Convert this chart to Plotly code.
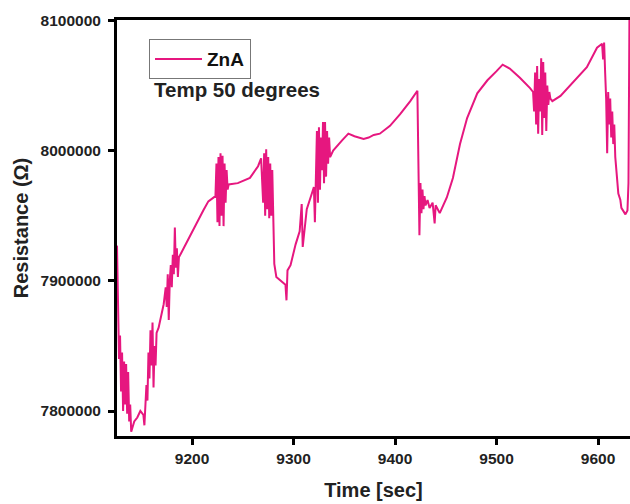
import plotly.graph_objects as go

time_sec = [
    9126, 9127, 9128, 9129, 9130, 9131, 9132, 9133, 9134, 9135, 9136, 9137, 9138, 9139, 9140,
    9143, 9146, 9149, 9152, 9153, 9154, 9155, 9156, 9157, 9158, 9159, 9160, 9161, 9162, 9163,
    9164, 9165, 9167, 9170, 9172, 9174, 9175, 9176, 9177, 9178, 9179, 9180, 9181, 9182, 9183,
    9184, 9185, 9186, 9187, 9189, 9198, 9211, 9216, 9222, 9223, 9224, 9225, 9226, 9227, 9228,
    9229, 9230, 9231, 9232, 9233, 9234, 9235, 9236, 9245, 9257, 9265, 9268, 9270, 9271, 9272,
    9273, 9274, 9275, 9276, 9277, 9278, 9279, 9280, 9281, 9283, 9289, 9292, 9293, 9294, 9297,
    9302, 9306, 9308, 9309, 9313, 9318, 9320, 9321, 9322, 9323, 9324, 9325, 9326, 9327, 9328,
    9329, 9330, 9331, 9332, 9333, 9334, 9335, 9336, 9339, 9348, 9354, 9360, 9364, 9369, 9374,
    9379, 9385, 9395, 9405, 9415, 9422, 9423, 9424, 9425, 9426, 9427, 9428, 9429, 9430, 9432,
    9434, 9437, 9439, 9440, 9444, 9451, 9457, 9464, 9471, 9481, 9491, 9500, 9506, 9513, 9523,
    9533, 9536, 9537, 9538, 9539, 9540, 9541, 9542, 9543, 9544, 9545, 9546, 9547, 9548, 9549,
    9550, 9551, 9552, 9553, 9555, 9563, 9575, 9589, 9599, 9604, 9605, 9606, 9607, 9608, 9609,
    9610, 9611, 9612, 9613, 9614, 9615, 9616, 9617, 9618, 9620, 9622, 9623, 9627, 9629, 9630,
    9631,
]

resistance_zna = [
    7927000, 7870000, 7840000, 7858000, 7815000, 7845000, 7800000, 7838000, 7805000, 7836000,
    7798000, 7830000, 7792000, 7805000, 7784000,
    7792000, 7795000, 7800000, 7797000, 7789000, 7812000, 7820000, 7808000, 7845000, 7825000,
    7862000, 7835000, 7868000, 7818000, 7850000,
    7835000, 7860000, 7864000, 7874000, 7882000, 7895000, 7880000, 7905000, 7870000, 7900000,
    7912000, 7895000, 7920000, 7905000, 7941000,
    7910000, 7925000, 7903000, 7918000, 7921000, 7935000, 7954000, 7961000, 7964000, 7965000,
    7990000, 7945000, 7995000, 7942000, 7998000,
    7950000, 7996000, 7942000, 7990000, 7960000, 7985000, 7970000, 7974000, 7975000, 7979000,
    7988000, 7994000, 7960000, 7998000, 7950000,
    8001000, 7955000, 7995000, 7948000, 7990000, 7950000, 7985000, 7955000, 7913000, 7903000,
    7899000, 7897000, 7885000, 7908000, 7912000,
    7928000, 7938000, 7959000, 7926000, 7955000, 7967000, 7972000, 7945000, 7975000, 8015000,
    7960000, 8018000, 7970000, 8010000, 7985000,
    8022000, 7975000, 8022000, 7980000, 8015000, 7990000, 8010000, 7995000, 8000000, 8008000,
    8013000, 8011000, 8010000, 8009000, 8010000,
    8012000, 8013000, 8019000, 8028000, 8038000, 8046000, 7990000, 7935000, 7975000, 7952000,
    7970000, 7955000, 7965000, 7958000, 7962000,
    7956000, 7960000, 7944000, 7958000, 7952000, 7964000, 7979000, 8005000, 8025000, 8044000,
    8054000, 8061000, 8066000, 8063000, 8056000,
    8048000, 8045000, 8030000, 8060000, 8020000, 8065000, 8013000, 8055000, 8030000, 8071000,
    8012000, 8068000, 8025000, 8060000, 8015000,
    8050000, 8035000, 8045000, 8040000, 8038000, 8042000, 8052000, 8064000, 8079000, 8082000,
    8070000, 8083000, 8060000, 8040000, 7998000,
    8045000, 8020000, 8040000, 8010000, 8030000, 8005000, 8020000, 7995000, 7985000, 7967000,
    7962000, 7956000, 7951000, 7954000, 7975000,
    8110000,
]

x_ticks = [9200, 9300, 9400, 9500, 9600]
y_ticks = [7800000, 7900000, 8000000, 8100000]

FONT = "Liberation Sans"
LINE_COLOR = "#E6177F"

fig = go.Figure()
fig.add_trace(go.Scatter(
    x=time_sec, y=resistance_zna, mode="lines", name="ZnA",
    line=dict(color=LINE_COLOR, width=2),
))

axis_common = dict(
    showgrid=False, zeroline=False, showline=True, linecolor="black", linewidth=3,
    ticks="outside", ticklen=6, tickwidth=2.5, tickcolor="black",
    tickfont=dict(family=FONT, size=15.5, color="#222", weight="bold"),
)

fig.update_layout(
    width=630, height=504,
    margin=dict(l=117, r=0, t=20, b=68),
    paper_bgcolor="white", plot_bgcolor="white",
    xaxis=dict(
        range=[9126, 9631.5], tickvals=x_ticks, mirror=True, automargin=False,
        title=dict(text="Time [sec]", standoff=18,
                   font=dict(family=FONT, size=20, color="#222", weight="bold")),
        **axis_common,
    ),
    yaxis=dict(
        range=[7780800, 8100300], tickvals=y_ticks, tickformat="d", automargin=False,
        ticklabelstandoff=4,
        title=dict(text="Resistance (Ω)", standoff=7,
                   font=dict(family=FONT, size=20, color="#222", weight="bold")),
        **axis_common,
    ),
    showlegend=True,
    legend=dict(
        x=0.0624, y=0.954, xanchor="left", yanchor="top",
        bordercolor="#777", borderwidth=1, bgcolor="white",
        font=dict(family=FONT, size=19, color="#111", weight="bold"),
        itemwidth=47,
    ),
    annotations=[dict(
        text="Temp 50 degrees", xref="paper", yref="paper", x=0.068, y=0.832,
        xanchor="left", yanchor="middle", showarrow=False,
        font=dict(family=FONT, size=20.5, color="#222", weight="bold"),
    )],
)

fig.write_html("out.html")
